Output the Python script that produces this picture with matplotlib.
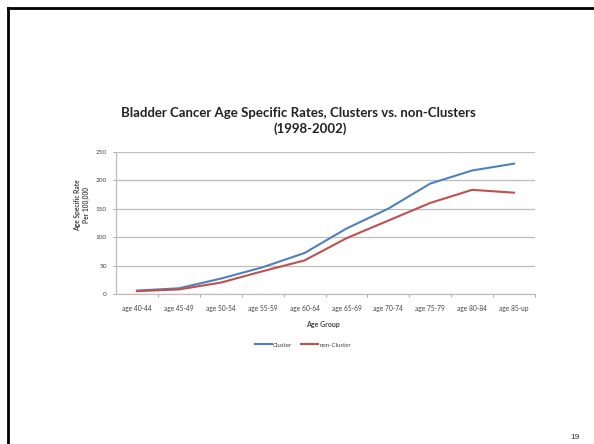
import matplotlib
matplotlib.use("Agg")
import matplotlib.pyplot as plt
from matplotlib.lines import Line2D

# age groups along the x axis
age_groups = ["age 40-44", "age 45-49", "age 50-54", "age 55-59", "age 60-64",
              "age 65-69", "age 70-74", "age 75-79", "age 80-84", "age 85-up"]

# rates per 100,000
cluster = [6, 10, 27, 47, 72, 115, 150, 194, 217, 229]
non_cluster = [5, 8, 20, 40, 59, 98, 129, 160, 183, 178]

y_ticks = [0, 50, 100, 150, 200, 250]

W, H = 594, 444
fig = plt.figure(figsize=(W / 100, H / 100), dpi=100)
fig.patch.set_facecolor("white")
plt.rcParams['font.family'] = ['Lato', 'DejaVu Sans']

# slide frame (top and left edges only)
fig.add_artist(Line2D([8 / W, 8 / W], [0, 1 - 8 / H], color="black", lw=2.0,
                      transform=fig.transFigure))
fig.add_artist(Line2D([8 / W, 1], [1 - 8 / H, 1 - 8 / H], color="black", lw=2.0,
                      transform=fig.transFigure))

ax = fig.add_axes([116 / W, 1 - 294 / H, 419 / W, 142.3 / H])
x = range(len(age_groups))
ax.plot(x, cluster, color="#4F81BD", lw=1.5, label="Cluster")
ax.plot(x, non_cluster, color="#C0504D", lw=1.5, label="non-Cluster")

ax.set_xlim(-0.5, len(age_groups) - 0.5)
ax.set_ylim(0, 250)
ax.set_yticks(y_ticks)
ax.set_xticks(list(x))
ax.set_xticklabels(age_groups, fontsize=4.8, color="#444444")
ax.tick_params(axis="y", labelsize=4.6, labelcolor="#444444", length=2.5,
               color="#999999", width=0.6, pad=4)
ax.tick_params(axis="x", length=0, pad=8)
# minor ticks on category boundaries
ax.set_xticks([i + 0.5 for i in range(len(age_groups))], minor=True)
ax.tick_params(axis="x", which="minor", length=2.5, color="#999999", width=0.6)

ax.grid(axis="y", color="#BDBDBD", lw=0.9)
ax.set_axisbelow(True)
for side in ["top", "right"]:
    ax.spines[side].set_visible(False)
ax.spines["left"].set_color("#BDBDBD")
ax.spines["bottom"].set_color("#BDBDBD")
ax.spines["left"].set_linewidth(0.9)
ax.spines["bottom"].set_linewidth(0.9)

# titles and axis labels
fig.text(298 / W, 1 - 113 / H, "Bladder Cancer Age Specific Rates, Clusters vs. non-Clusters",
         ha="center", va="center", fontsize=9.5, fontweight="bold", color="#222222")
fig.text(310 / W, 1 - 129 / H, "(1998-2002)", ha="center", va="center",
         fontsize=9.5, fontweight="bold", color="#222222")
fig.text(82 / W, 1 - 205 / H, "Age Specific Rate\nPer 100,000", ha="center", va="center",
         rotation=90, fontsize=4.8, fontweight="bold", color="#444444", linespacing=1.3)
fig.text(323 / W, 1 - 325 / H, "Age Group", ha="center", va="center",
         fontsize=5.0, fontweight="bold", color="#444444")

ax.legend(loc="center", bbox_to_anchor=(303 / W, 1 - 345 / H), bbox_transform=fig.transFigure,
          ncol=2, frameon=False, fontsize=4.4, handlelength=2.8, handletextpad=0.2,
          columnspacing=1.5, labelcolor="#444444")

fig.text(575 / W, 1 - 437 / H, "19", ha="center", va="center", fontsize=6,
         family="Liberation Sans", color="#333333")

fig.savefig("out.png", dpi=100)
